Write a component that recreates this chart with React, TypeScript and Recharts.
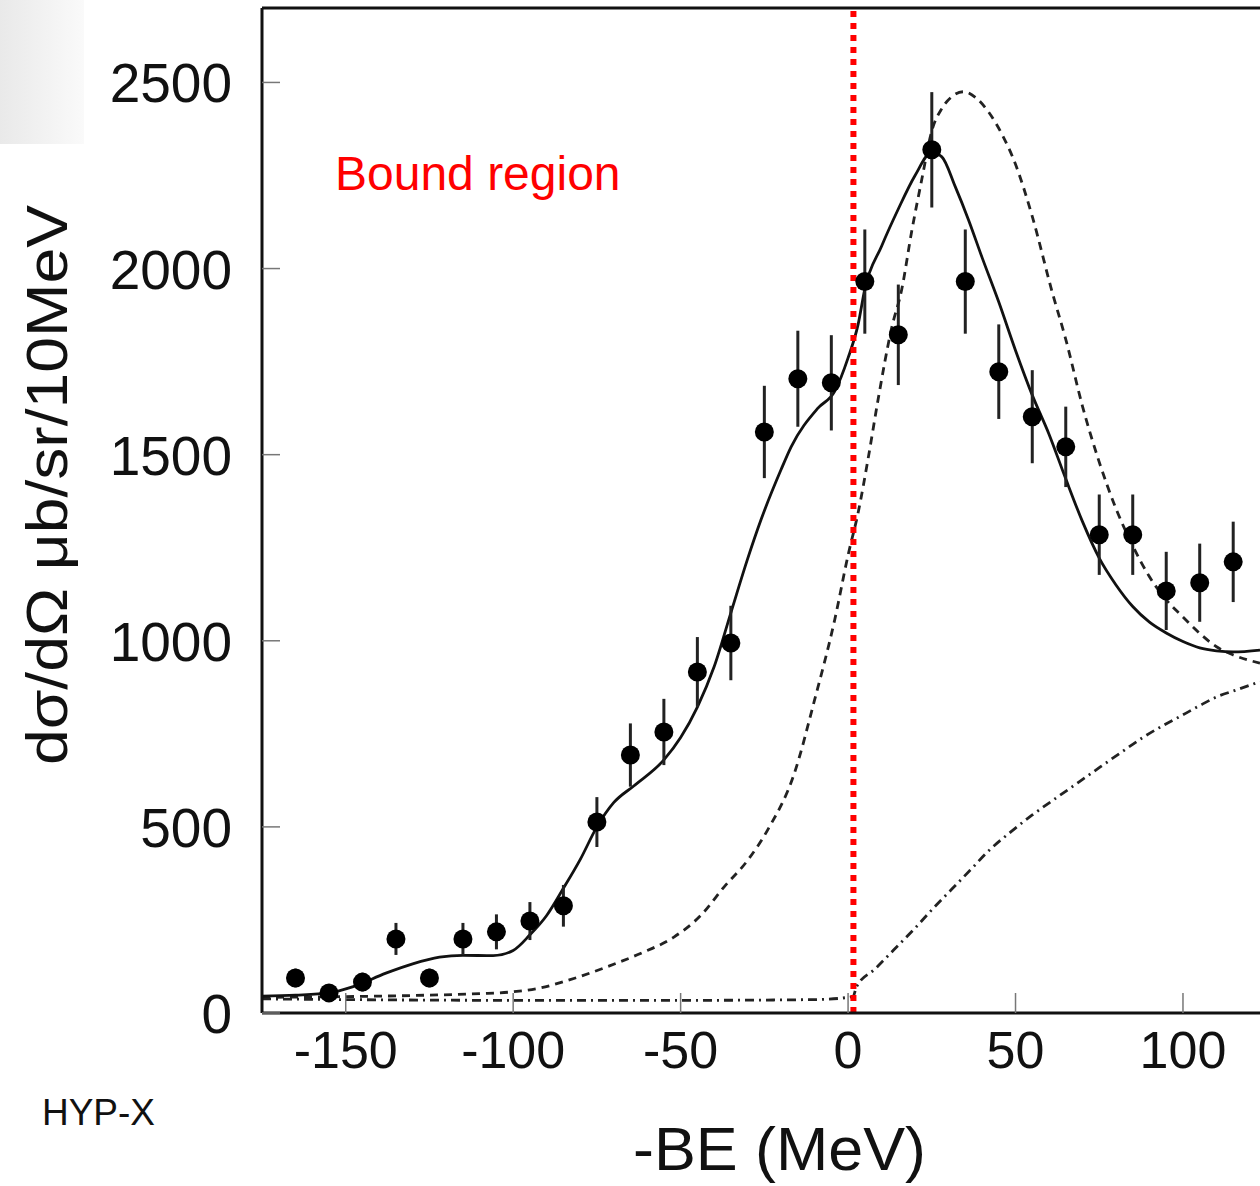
import {
  ComposedChart,
  Line,
  Scatter,
  ErrorBar,
  XAxis,
  YAxis,
  ReferenceLine,
} from "recharts";

// measured cross section, 10 MeV bins
const bins = [
  -165, -155, -145, -135, -125, -115, -105, -95, -85, -75, -65, -55, -45, -35,
  -25, -15, -5, 5, 15, 25, 35, 45, 55, 65, 75, 85, 95, 105, 115,
];
const counts = [
  94, 54, 83, 199, 94, 199, 218, 247, 288, 513, 693, 755, 916, 994, 1561, 1704,
  1693, 1965, 1822, 2319, 1965, 1723, 1602, 1521, 1285, 1285, 1134, 1156, 1212,
];
const errors = [
  25, 20, 25, 43, 25, 43, 47, 51, 56, 67, 85, 89, 94, 100, 124, 129, 128, 140,
  135, 155, 140, 127, 125, 108, 108, 108, 105, 105, 108,
];

// total fit (solid)
const fitX = [
  -175, -165, -155, -148, -138, -130, -122, -115, -106, -100, -95, -90, -85,
  -80, -75, -70, -64, -55, -50, -45, -40, -35, -30, -26, -20, -17, -9, -4, 0, 3,
  5, 10, 15, 20, 25, 28, 32, 36, 40, 45, 50, 55, 60, 65, 70, 75, 80, 85, 90, 95,
  100, 105, 110, 115, 123,
];
const fitY = [
  45, 48, 54, 70, 107, 132, 150, 155, 154, 168, 210, 262, 335, 412, 500, 565,
  610, 680, 740, 822, 930, 1075, 1220, 1325, 1460, 1521, 1625, 1670, 1760, 1850,
  1945, 2060, 2160, 2250, 2312, 2300, 2220, 2130, 2030, 1910, 1780, 1660, 1555,
  1435, 1320, 1222, 1150, 1092, 1050, 1021, 998, 981, 973, 970, 975,
];

// quasi-free component (dashed)
const qfX = [
  -175, -150, -125, -110, -100, -92, -85, -72, -62, -52, -44, -37, -30, -24,
  -16, -10, -4, 0, 3, 6, 9, 13, 16, 19, 22, 25, 28, 31, 34.5, 38, 42, 46, 50,
  55, 61, 65, 70, 75, 80, 85, 90, 95, 100, 105, 110, 115, 123,
];
const qfY = [
  42, 44, 48, 52, 57, 67, 84, 124, 160, 204, 262, 339, 410, 492, 645, 841, 1056,
  1230, 1344, 1490, 1650, 1840, 1943, 2100, 2239, 2370, 2430, 2462, 2475, 2460,
  2420, 2360, 2280, 2140, 1935, 1810, 1630, 1480, 1355, 1255, 1172, 1110, 1064,
  1020, 984, 962, 940,
];

// background (dash-dot)
const bgX = [
  -175, -150, -100, -50, -10, 0, 1.5, 2.5, 8, 13.6, 20, 25.5, 31, 36.5, 42,
  48.5, 55, 62.5, 69, 75.3, 82, 88, 94, 100, 105, 110, 116, 123,
];
const bgY = [
  38, 36, 34, 34, 36, 42, 45, 70, 118, 169, 228, 282, 333, 384, 436, 486, 532,
  580, 621, 661, 703, 740, 772, 801, 826, 849, 868, 890,
];

const xTicks = [-150, -100, -50, 0, 50, 100];
const yTicks = [0, 500, 1000, 1500, 2000, 2500];

const points = bins.map((x, i) => ({ x, y: counts[i], err: errors[i] }));
const fit = fitX.map((x, i) => ({ x, y: fitY[i] }));
const qf = qfX.map((x, i) => ({ x, y: qfY[i] }));
const bg = bgX.map((x, i) => ({ x, y: bgY[i] }));

const FONT = '"Liberation Sans", Arial, Helvetica, sans-serif';

const XTick = ({ x, y, payload }: any) => (
  <g>
    <line x1={x} x2={x} y1={y} y2={y - 20} stroke="#777" strokeWidth={1.5} />
    <text
      x={x}
      y={y + 55}
      textAnchor="middle"
      fontSize={52}
      fontFamily={FONT}
      fill="#111"
    >
      {payload.value}
    </text>
  </g>
);

const YTick = ({ x, y, payload }: any) => (
  <g>
    <line x1={x} x2={x + 18} y1={y} y2={y} stroke="#777" strokeWidth={1.5} />
    <text
      x={x - 30}
      y={y + 20}
      textAnchor="end"
      fontSize={55}
      fontFamily={FONT}
      fill="#111"
    >
      {payload.value}
    </text>
  </g>
);

const Dot = (p: any) => <circle cx={p.cx} cy={p.cy} r={9.5} fill="#000" />;

export default function App() {
  return (
    <div style={{ position: "absolute", left: 0, top: 0, width: 1260, height: 1186 }}>
      <div
        style={{
          position: "absolute",
          left: 0,
          top: 0,
          width: 84,
          height: 144,
          background: "linear-gradient(to right, #e9e9e9, #fafafa)",
        }}
      />
      <ComposedChart
        width={1260}
        height={1186}
        margin={{ top: 8, right: 0, bottom: 0, left: 0 }}
        style={{ position: "absolute", left: 0, top: 0 }}
      >
        <XAxis
          dataKey="x"
          type="number"
          domain={[-175, 123]}
          ticks={xTicks}
          interval={0}
          allowDataOverflow
          height={173}
          tickSize={0}
          tickMargin={0}
          tickLine={false}
          tick={<XTick />}
          axisLine={{ stroke: "#111", strokeWidth: 3 }}
        />
        <YAxis
          type="number"
          domain={[0, 2700]}
          ticks={yTicks}
          interval={0}
          allowDataOverflow
          width={262}
          tickSize={0}
          tickMargin={0}
          tickLine={false}
          tick={<YTick />}
          axisLine={{ stroke: "#111", strokeWidth: 3 }}
        />
        <ReferenceLine y={2700} stroke="#111" strokeWidth={3} />
        <Line
          data={bg}
          dataKey="y"
          type="monotone"
          dot={false}
          stroke="#222"
          strokeWidth={2.8}
          strokeDasharray="9 5 2 5"
          isAnimationActive={false}
        />
        <Line
          data={qf}
          dataKey="y"
          type="monotone"
          dot={false}
          stroke="#222"
          strokeWidth={2.8}
          strokeDasharray="8 6"
          isAnimationActive={false}
        />
        <Line
          data={fit}
          dataKey="y"
          type="monotone"
          dot={false}
          stroke="#111"
          strokeWidth={2.8}
          isAnimationActive={false}
        />
        <Scatter data={points} dataKey="y" shape={<Dot />} isAnimationActive={false}>
          <ErrorBar
            dataKey="err"
            direction="y"
            width={0}
            stroke="#222"
            strokeWidth={3}
            isAnimationActive={false}
          />
        </Scatter>
        <ReferenceLine
          x={1.6}
          stroke="#ff0000"
          strokeWidth={6}
          strokeDasharray="6 6"
        />
      </ComposedChart>
      <svg
        width={1260}
        height={1186}
        style={{ position: "absolute", left: 0, top: 0, pointerEvents: "none" }}
      >
        <text x={335} y={190} fontSize={48} fontFamily={FONT} fill="#ff0000">
          Bound region
        </text>
        <text
          x={42}
          y={1125}
          fontSize={36}
          fontFamily={FONT}
          fill="#111"
          textLength={113}
          lengthAdjust="spacingAndGlyphs"
        >
          HYP-X
        </text>
        <text
          x={633}
          y={1170}
          fontSize={62}
          fontFamily={FONT}
          fill="#111"
          textLength={293}
          lengthAdjust="spacingAndGlyphs"
        >
          -BE (MeV)
        </text>
        <text
          x={67}
          y={485}
          transform="rotate(-90 67 485)"
          textAnchor="middle"
          fontSize={58}
          fontFamily={FONT}
          fill="#111"
          textLength={560}
          lengthAdjust="spacingAndGlyphs"
        >
          dσ/dΩ μb/sr/10MeV
        </text>
      </svg>
    </div>
  );
}
